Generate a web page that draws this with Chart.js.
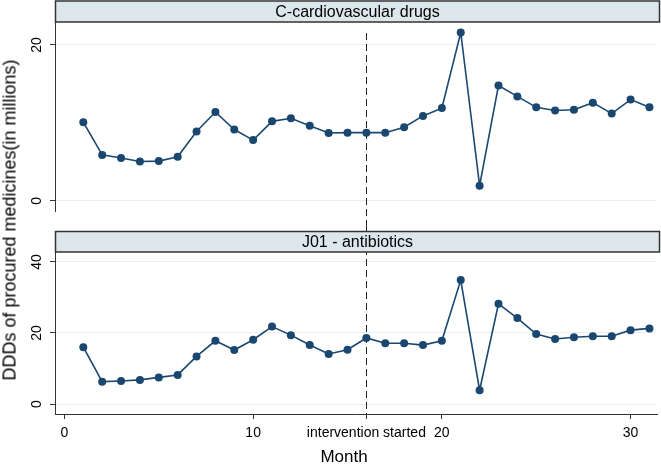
<!DOCTYPE html>
<html><head><meta charset="utf-8">
<script src="https://cdn.jsdelivr.net/npm/chart.js@4/dist/chart.umd.min.js"></script>
<style>
html,body{margin:0;padding:0;background:#fff;}
#wrap{position:relative;width:661px;height:465px;overflow:hidden;font-family:"Liberation Sans",Arial,sans-serif;color:#000;}
#c1{position:absolute;left:0;top:0;width:661px;height:226px;}
#c2{position:absolute;left:0;top:226px;width:661px;height:239px;}
.yt{position:absolute;left:10px;top:220px;transform:translate(-50%,-50%) rotate(-90deg);font-size:18px;white-space:nowrap;}
.xt{position:absolute;left:344px;top:457px;transform:translate(-50%,-50%);font-size:17px;white-space:nowrap;}
</style></head>
<body><div id="wrap">
<canvas id="c1" width="661" height="226"></canvas>
<canvas id="c2" width="661" height="239"></canvas>
<div class="yt">DDDs of procured medicines(in millions)</div>
<div class="xt">Month</div>
</div>
<script>
// ---- data ----
const months = [1,2,3,4,5,6,7,8,9,10,11,12,13,14,15,16,17,18,19,20,21,22,23,24,25,26,27,28,29,30,31];
const cardioValues = [10.1,5.9,5.5,5.05,5.1,5.65,8.9,11.4,9.15,7.8,10.2,10.6,9.65,8.7,8.75,8.75,8.75,9.45,10.9,11.9,21.6,1.95,14.8,13.4,12.0,11.6,11.7,12.6,11.2,13.0,12.0];
const antibioticValues = [16.0,6.3,6.5,6.8,7.5,8.2,13.4,17.8,15.2,18.1,21.8,19.4,16.6,14.1,15.3,18.6,17.1,17.1,16.6,17.8,34.9,3.9,28.2,24.2,19.7,18.3,18.8,19.1,19.1,20.8,21.3];
const panelTitles = ['C-cardiovascular drugs', 'J01 - antibiotics'];
const xTickValues = [0, 10, 16, 20, 30];
const xTickLabels = ['0', '10', 'intervention started', '20', '30'];
const cardioYTicks = [0, 20];
const antibioticYTicks = [0, 20, 40];
const interventionMonth = 16;

const FONT = '"Liberation Sans", Arial, sans-serif';
const NAVY = '#1a476f';
const DARK = '#333333';
const GRID = '#e6eef1';

const facetPlugin = {
  id: 'facet',
  beforeDatasetsDraw(chart, args, opts) {
    const ctx = chart.ctx;
    const x = Math.round(chart.scales.x.getPixelForValue(interventionMonth)) + 0.5;
    ctx.save();
    ctx.strokeStyle = '#222';
    ctx.lineWidth = 1;
    ctx.setLineDash([7, 4]);
    ctx.beginPath();
    ctx.moveTo(x, opts.lineTop);
    ctx.lineTo(x, opts.lineBottom === 'area' ? chart.chartArea.bottom : opts.lineBottom);
    ctx.stroke();
    ctx.restore();
  },
  afterDraw(chart, args, opts) {
    const ctx = chart.ctx;
    const ca = chart.chartArea;
    const l = ca.left + 0.5, r = opts.stripRight, t = opts.stripTop, b = ca.top;
    ctx.save();
    ctx.fillStyle = '#dce7eb';
    ctx.fillRect(l, t, r - l, b - t);
    ctx.strokeStyle = DARK;
    ctx.lineWidth = 1.5;
    ctx.strokeRect(l, t, r - l, b - t);
    ctx.fillStyle = '#000';
    ctx.font = '16px ' + FONT;
    ctx.textAlign = 'center';
    ctx.textBaseline = 'middle';
    ctx.fillText(opts.title, (l + r) / 2, (t + b) / 2 + 1);
    ctx.restore();
  }
};

function yAxis(min, max, ticks) {
  return {
    type: 'linear', position: 'left', min: min, max: max,
    afterBuildTicks: s => { s.ticks = ticks.map(v => ({ value: v })); },
    afterFit: s => { s.width = 55; },
    ticks: { font: { size: 14, family: FONT }, color: '#000', minRotation: 90, maxRotation: 90, crossAlign: 'center', padding: 5 },
    grid: { color: GRID, lineWidth: 1, tickColor: DARK, tickLength: 5, drawTicks: true },
    border: { display: true, color: DARK, width: 1 }
  };
}

function lineDataset(values) {
  return {
    data: months.map((m, i) => ({ x: m, y: values[i] })),
    borderColor: NAVY, backgroundColor: NAVY, borderWidth: 1.6,
    pointRadius: 4, pointBackgroundColor: NAVY, pointBorderWidth: 0, tension: 0
  };
}

const common = {
  responsive: false, animation: false, devicePixelRatio: 1,
  plugins: { legend: { display: false }, tooltip: { enabled: false } }
};

new Chart(document.getElementById('c1'), {
  type: 'line',
  data: { datasets: [lineDataset(cardioValues)] },
  options: Object.assign({}, common, {
    layout: { padding: { top: 22, bottom: 15, left: 0, right: 2 } },
    scales: {
      x: { type: 'linear', min: -0.5, max: 31.4, display: false },
      y: yAxis(-1.3, 22.95, cardioYTicks)
    },
    plugins: Object.assign({}, common.plugins, {
      facet: { title: panelTitles[0], stripTop: 1, stripRight: 659.5, lineTop: 33, lineBottom: 226 }
    })
  }),
  plugins: [facetPlugin]
});

new Chart(document.getElementById('c2'), {
  type: 'line',
  data: { datasets: [lineDataset(antibioticValues)] },
  options: Object.assign({}, common, {
    layout: { padding: { top: 26, bottom: 0, left: 0, right: 2 } },
    scales: {
      x: {
        type: 'linear', position: 'bottom', min: -0.5, max: 31.4,
        afterBuildTicks: s => { s.ticks = xTickValues.map(v => ({ value: v })); },
        afterFit: s => { s.height = 51; },
        ticks: {
          autoSkip: false, maxRotation: 0, minRotation: 0, padding: 6,
          font: { size: 14, family: FONT }, color: '#000',
          callback: v => xTickLabels[xTickValues.indexOf(v)]
        },
        grid: { drawOnChartArea: false, tickColor: DARK, tickLength: 5 },
        border: { display: true, color: DARK, width: 1 }
      },
      y: yAxis(-2.8, 42.8, antibioticYTicks)
    },
    plugins: Object.assign({}, common.plugins, {
      facet: { title: panelTitles[1], stripTop: 5.5, stripRight: 659.5, lineTop: 0, lineBottom: 'area' }
    })
  }),
  plugins: [facetPlugin]
});
</script>
</body></html>
